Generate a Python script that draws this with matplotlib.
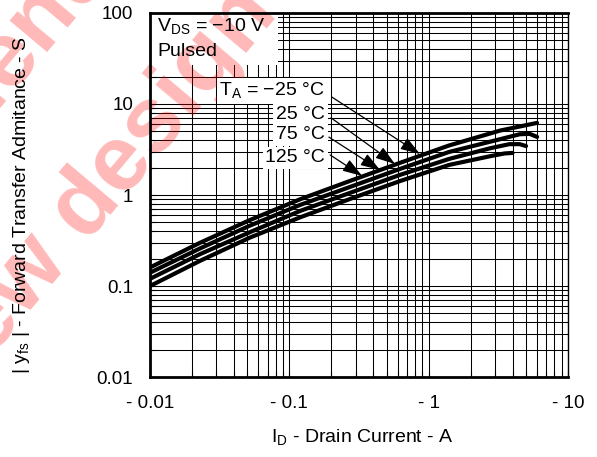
import matplotlib
matplotlib.use('Agg')
import matplotlib.pyplot as plt
from matplotlib.patches import Rectangle
from matplotlib.ticker import LogLocator, NullFormatter

plt.rcParams['font.family'] = ['Liberation Sans', 'DejaVu Sans']
plt.rcParams['mathtext.fontset'] = 'custom'
plt.rcParams['mathtext.rm'] = 'Liberation Sans'

# drain current (A) and forward transfer admittance (S) per ambient temperature
id_m25 = [0.01, 0.023, 0.052, 0.12, 0.27, 0.62, 1.4, 3.25, 6.0]
yfs_m25 = [0.16, 0.30, 0.53, 0.90, 1.42, 2.25, 3.5, 5.1, 6.2]

id_25 = [0.01, 0.023, 0.052, 0.12, 0.27, 0.62, 1.4, 3.25, 4.5, 5.3, 6.0]
yfs_25 = [0.14, 0.26, 0.46, 0.78, 1.22, 1.93, 2.97, 4.1, 4.65, 4.7, 4.35]

id_75 = [0.01, 0.023, 0.052, 0.12, 0.27, 0.62, 1.4, 2.8, 3.8, 4.5, 5.0]
yfs_75 = [0.12, 0.225, 0.39, 0.67, 1.05, 1.66, 2.49, 3.28, 3.62, 3.62, 3.45]

id_125 = [0.01, 0.023, 0.052, 0.12, 0.27, 0.62, 1.4, 2.8, 3.5, 4.0]
yfs_125 = [0.10, 0.19, 0.34, 0.57, 0.90, 1.42, 2.14, 2.68, 2.86, 2.9]

series = [(id_m25, yfs_m25), (id_25, yfs_25), (id_75, yfs_75), (id_125, yfs_125)]

temp_labels = ['T$_\\mathregular{A}$ = \u221225 \u00b0C', '25 \u00b0C', '75 \u00b0C', '125 \u00b0C']
# where each label's arrow touches the curve bundle (A, S)
arrow_tips = [(0.867, 2.82), (0.573, 2.19), (0.448, 1.88), (0.333, 1.62)]

xticks = [0.01, 0.1, 1, 10]
xticklabels = ['- 0.01', '- 0.1', '- 1', '- 10']
yticks = [0.01, 0.1, 1, 10, 100]
yticklabels = ['0.01', '0.1', '1', '10', '100']

fig = plt.figure(figsize=(5.97, 4.57), dpi=100)
ax = fig.add_axes([0.2513, 0.175, 0.7001, 0.7966])
ax.set_facecolor('none')

ax.set_xscale('log')
ax.set_yscale('log')
ax.set_xlim(0.01, 10)
ax.set_ylim(0.01, 100)

for xs, ys in series:
    ax.plot(xs, ys, color='black', lw=3.0, solid_capstyle='round', zorder=3)

ax.set_xticks(xticks)
ax.set_xticklabels(xticklabels)
ax.set_yticks(yticks)
ax.set_yticklabels(yticklabels)
ax.xaxis.set_minor_locator(LogLocator(base=10, subs=range(2, 10)))
ax.yaxis.set_minor_locator(LogLocator(base=10, subs=range(2, 10)))
ax.xaxis.set_minor_formatter(NullFormatter())
ax.yaxis.set_minor_formatter(NullFormatter())
ax.tick_params(which='both', direction='in', length=4, width=0.8, labelsize=13.5)
ax.tick_params(axis='x', pad=13)
ax.tick_params(axis='y', pad=12)

ax.set_axisbelow(True)
ax.grid(True, which='both', color='black', lw=0.75)

for side in ['left', 'bottom', 'top']:
    ax.spines[side].set_linewidth(2)
ax.spines['right'].set_linewidth(1)

# white box behind the test conditions
ax.add_patch(Rectangle((0, 0.857), 0.306, 0.143, transform=ax.transAxes,
                       facecolor='white', edgecolor='none', zorder=1))
ax.text(0.017, 0.962, 'V$_\\mathregular{DS}$ = \u221210 V', transform=ax.transAxes,
        ha='left', va='center', fontsize=14, zorder=4)
ax.text(0.017, 0.893, 'Pulsed', transform=ax.transAxes,
        ha='left', va='center', fontsize=14, zorder=4)

label_y = [0.786, 0.720, 0.665, 0.602]
arrow_start_x = [0.435, 0.433, 0.428, 0.431]
arrow_start_y = [0.769, 0.712, 0.659, 0.610]
for lab, ly, sx, sy, tip in zip(temp_labels, label_y, arrow_start_x, arrow_start_y, arrow_tips):
    ax.text(0.4187, ly, lab, transform=ax.transAxes, ha='right', va='center',
            fontsize=14, zorder=4,
            bbox=dict(facecolor='white', edgecolor='none', pad=2.0))
    ax.annotate('', xy=tip, xycoords='data', xytext=(sx, sy), textcoords='axes fraction',
                arrowprops=dict(arrowstyle='-|>,head_length=1.2,head_width=0.4',
                                mutation_scale=10, color='black', lw=0.9,
                                shrinkA=0, shrinkB=0), zorder=5)

# watermark
wm = dict(transform=fig.transFigure, rotation=50, rotation_mode='anchor',
          ha='center', va='center', fontsize=67, fontweight='bold',
          color='red', alpha=0.28, zorder=1.5, clip_on=False)
ax.text(-0.1575, 0.5996, 'Not recommended', **wm)
ax.text(0.0838, 0.453, 'for new design', **wm)

fig.text(362 / 597, 1 - 438 / 457, 'I$_\\mathregular{D}$ - Drain Current - A',
         ha='center', va='center', fontsize=14)
fig.text(22 / 597, 1 - 205 / 457,
         '| y$_\\mathregular{fs}$ | - Forward Transfer Admitance - S',
         ha='center', va='center', rotation=90, fontsize=14)

fig.savefig('out.png', dpi=100)
